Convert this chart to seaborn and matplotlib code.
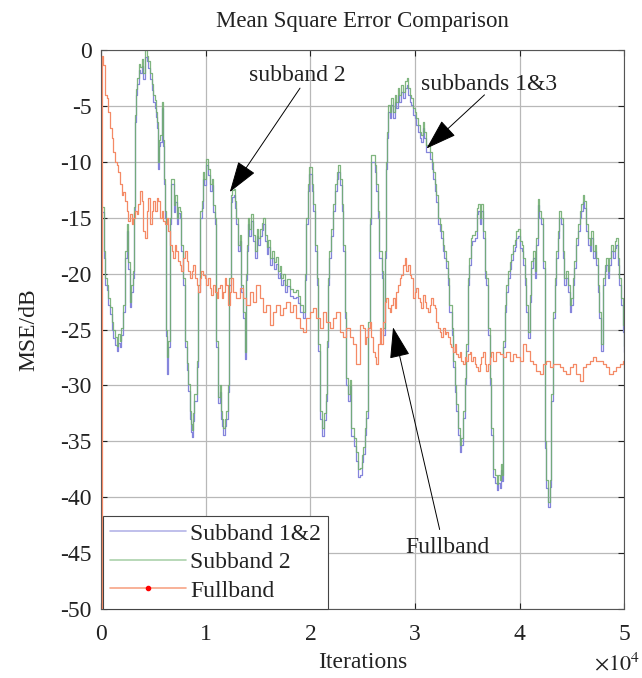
import matplotlib
matplotlib.use("Agg")
import matplotlib.pyplot as plt
import seaborn as sns
import pandas as pd
from matplotlib.lines import Line2D

# ---------------- data (iterations in units of 1e4, MSE in dB) ----------------
sub_iters = [
    0.00, 0.02, 0.03, 0.05, 0.065, 0.08, 0.10, 0.115, 0.13, 0.145,
    0.16, 0.175, 0.19, 0.21, 0.225, 0.24, 0.255, 0.27, 0.285, 0.30,
    0.31, 0.32, 0.33, 0.34, 0.355, 0.37, 0.385, 0.40, 0.42, 0.435,
    0.45, 0.465, 0.48, 0.495, 0.51, 0.52, 0.53, 0.54, 0.55, 0.56,
    0.575, 0.585, 0.595, 0.61, 0.62, 0.63, 0.64, 0.655, 0.67, 0.69,
    0.705, 0.72, 0.735, 0.75, 0.765, 0.78, 0.80, 0.815, 0.83, 0.846,
    0.86, 0.87, 0.88, 0.89, 0.91, 0.925, 0.94, 0.96, 0.97, 0.985,
    1.00, 1.02, 1.04, 1.055, 1.07, 1.085, 1.10, 1.117, 1.13, 1.14,
    1.155, 1.165, 1.18, 1.19, 1.21, 1.22, 1.235, 1.25, 1.265, 1.28,
    1.29, 1.31, 1.325, 1.34, 1.355, 1.37, 1.38, 1.39, 1.40, 1.415,
    1.43, 1.45, 1.47, 1.485, 1.50, 1.52, 1.535, 1.55, 1.565, 1.58,
    1.595, 1.61, 1.63, 1.65, 1.67, 1.69, 1.705, 1.72, 1.74, 1.76,
    1.78, 1.80, 1.83, 1.86, 1.88, 1.90, 1.93, 1.945, 1.96, 1.975,
    1.99, 2.01, 2.025, 2.04, 2.06, 2.075, 2.09, 2.11, 2.13, 2.15,
    2.16, 2.17, 2.18, 2.20, 2.216, 2.23, 2.25, 2.26, 2.28, 2.30,
    2.31, 2.33, 2.34, 2.36, 2.375, 2.39, 2.42, 2.44, 2.455, 2.47,
    2.49, 2.50, 2.52, 2.535, 2.55, 2.565, 2.58, 2.60, 2.615, 2.63,
    2.645, 2.66, 2.68, 2.69, 2.71, 2.72, 2.73, 2.74, 2.76, 2.775,
    2.79, 2.805, 2.82, 2.84, 2.85, 2.87, 2.885, 2.90, 2.92, 2.935,
    2.95, 2.965, 2.98, 3.00, 3.01, 3.03, 3.045, 3.06, 3.08, 3.09,
    3.11, 3.125, 3.14, 3.16, 3.17, 3.19, 3.20, 3.22, 3.24, 3.25,
    3.27, 3.28, 3.30, 3.315, 3.33, 3.35, 3.36, 3.38, 3.395, 3.41,
    3.43, 3.44, 3.46, 3.475, 3.49, 3.51, 3.52, 3.54, 3.55, 3.57,
    3.59, 3.60, 3.62, 3.635, 3.65, 3.67, 3.68, 3.70, 3.715, 3.73,
    3.75, 3.765, 3.78, 3.795, 3.81, 3.825, 3.835, 3.845, 3.86, 3.87,
    3.89, 3.905, 3.92, 3.94, 3.955, 3.97, 3.985, 4.00, 4.02, 4.03,
    4.05, 4.065, 4.08, 4.10, 4.11, 4.13, 4.145, 4.16, 4.175, 4.19,
    4.21, 4.225, 4.24, 4.255, 4.27, 4.29, 4.30, 4.32, 4.335, 4.35,
    4.365, 4.38, 4.40, 4.415, 4.43, 4.445, 4.46, 4.48, 4.495, 4.51,
    4.525, 4.54, 4.56, 4.575, 4.59, 4.605, 4.62, 4.64, 4.655, 4.67,
    4.685, 4.70, 4.72, 4.73, 4.75, 4.765, 4.78, 4.80, 4.815, 4.83,
    4.845, 4.86, 4.875, 4.89, 4.91, 4.925, 4.94, 4.955, 4.97, 4.99,
    5.00,
]

sub2_mse = [
    -14.0, -18.0, -20.4, -21.0, -22.2, -23.0, -24.3, -25.0, -25.7, -26.5,
    -25.4, -26.0, -24.9, -22.8, -18.0, -15.6, -19.0, -22.5, -21.0, -19.8,
    -14.0, -5.8, -3.5, -2.5, -1.2, -1.5, -0.8, -2.0, 0.0, -0.5,
    -1.0, -2.0, -3.0, -4.0, -4.5, -5.5, -6.4, -10.0, -8.0, -7.6,
    -4.6, -8.0, -11.5, -14.4, -25.0, -27.5, -26.0, -15.0, -11.5, -13.9,
    -13.0, -15.0, -14.0, -14.4, -17.4, -20.4, -26.0, -28.0, -29.9, -32.3,
    -33.5, -34.0, -32.5, -30.8, -27.8, -21.0, -14.4, -13.5, -10.9, -11.5,
    -9.7, -10.6, -12.0, -11.5, -13.9, -15.0, -26.0, -31.0, -30.0, -32.3,
    -33.0, -33.8, -33.0, -32.3, -30.0, -20.4, -13.0, -12.5, -12.4, -13.5,
    -15.0, -17.4, -16.5, -21.0, -23.4, -27.0, -20.0, -17.4, -15.0, -16.0,
    -14.7, -16.5, -18.0, -16.0, -16.8, -16.0, -15.5, -15.0, -16.5, -17.6,
    -17.0, -18.6, -18.0, -19.0, -18.5, -19.8, -19.3, -20.4, -20.0, -21.0,
    -20.5, -21.4, -21.6, -21.5, -22.0, -22.8, -23.4, -20.0, -15.0, -12.0,
    -10.5, -12.0, -13.8, -17.4, -20.4, -26.3, -32.3, -33.8, -32.5, -30.8,
    -26.0, -20.4, -18.0, -16.0, -13.8, -12.0, -10.9, -10.3, -11.5, -13.8,
    -17.4, -23.4, -29.3, -30.8, -29.5, -33.8, -34.7, -36.0, -37.5, -37.4,
    -36.2, -35.5, -33.8, -32.3, -24.3, -15.0, -9.4, -9.4, -10.3, -12.0,
    -14.4, -18.0, -19.8, -24.9, -18.0, -10.0, -7.3, -4.9, -5.5, -4.3,
    -5.5, -4.0, -4.6, -3.4, -4.0, -3.1, -3.7, -2.8, -2.5, -3.4,
    -4.0, -4.3, -5.2, -5.5, -6.1, -6.7, -7.3, -7.6, -6.4, -7.3,
    -8.5, -8.5, -9.1, -10.0, -10.9, -12.0, -13.0, -15.0, -15.6, -16.2,
    -17.4, -18.0, -18.9, -20.4, -22.8, -24.9, -27.8, -30.0, -31.7, -33.8,
    -35.3, -34.7, -32.3, -29.3, -26.3, -20.4, -18.6, -16.8, -16.5, -16.2,
    -14.1, -13.8, -15.0, -13.8, -16.2, -19.8, -20.4, -24.9, -29.3, -33.8,
    -37.5, -38.0, -38.8, -38.0, -38.5, -37.0, -38.0, -26.0, -22.8, -21.0,
    -19.8, -19.0, -18.2, -17.4, -17.0, -16.2, -16.0, -17.1, -17.4, -18.6,
    -20.4, -22.8, -25.2, -21.9, -18.9, -18.0, -19.8, -16.8, -13.3, -14.4,
    -15.0, -18.9, -35.0, -38.5, -40.4, -38.5, -30.8, -23.4, -20.4, -18.0,
    -16.2, -14.4, -15.0, -18.0, -20.4, -19.8, -21.0, -22.8, -22.2, -20.4,
    -18.9, -16.8, -15.6, -14.4, -13.8, -13.0, -13.5, -15.6, -16.8, -17.4,
    -16.2, -18.0, -17.4, -18.6, -21.0, -23.4, -26.3, -20.4, -19.2, -18.6,
    -19.8, -18.6, -17.4, -18.0, -17.1, -16.8, -18.6, -20.4, -22.2, -24.6,
    -26.5,
]

sub12_mse = [
    -14.5, -18.6, -21.0, -21.5, -22.8, -23.6, -25.0, -25.8, -26.4, -26.9,
    -26.2, -26.6, -25.5, -23.4, -18.6, -16.2, -19.6, -23.0, -21.6, -20.4,
    -14.6, -6.4, -4.0, -3.0, -1.8, -2.0, -1.4, -2.6, -0.6, -1.0,
    -1.6, -2.6, -3.6, -4.6, -5.2, -6.0, -7.0, -10.6, -8.6, -8.2,
    -5.2, -8.6, -12.0, -15.0, -25.6, -29.0, -26.6, -15.6, -12.0, -14.5,
    -13.6, -15.6, -14.6, -15.0, -18.0, -21.0, -26.6, -28.6, -30.5, -33.0,
    -34.2, -34.6, -33.2, -31.4, -28.4, -21.6, -15.0, -14.1, -11.5, -12.1,
    -10.3, -11.2, -12.6, -12.1, -14.5, -15.6, -26.6, -31.6, -30.6, -33.0,
    -33.6, -34.4, -33.6, -33.0, -30.6, -21.0, -13.6, -13.1, -13.0, -14.1,
    -15.6, -18.0, -17.1, -21.6, -24.0, -27.6, -20.6, -18.0, -15.6, -16.6,
    -15.3, -17.1, -18.6, -16.6, -17.4, -16.6, -16.1, -15.6, -17.1, -18.2,
    -17.6, -19.2, -18.6, -19.6, -19.1, -20.4, -19.9, -21.0, -20.6, -21.6,
    -21.1, -22.0, -22.2, -22.1, -22.6, -23.4, -24.0, -20.6, -15.6, -12.6,
    -11.1, -12.6, -14.4, -18.0, -21.0, -26.9, -33.0, -34.5, -33.1, -31.4,
    -26.6, -21.0, -18.6, -16.6, -14.4, -12.6, -11.5, -10.9, -12.1, -14.4,
    -18.0, -24.0, -30.0, -31.4, -30.1, -34.5, -35.4, -36.8, -38.2, -38.0,
    -36.9, -36.1, -34.4, -32.9, -24.9, -15.6, -10.0, -10.0, -10.9, -12.6,
    -15.0, -18.6, -20.4, -25.5, -18.6, -10.6, -7.9, -5.5, -6.1, -4.9,
    -6.1, -4.6, -5.2, -4.0, -4.6, -3.7, -4.3, -3.4, -3.1, -4.0,
    -4.6, -4.9, -5.8, -6.1, -6.7, -7.3, -7.9, -8.2, -7.0, -7.9,
    -9.1, -9.1, -9.7, -10.6, -11.5, -12.6, -13.6, -15.6, -16.2, -16.8,
    -18.0, -18.6, -19.5, -21.0, -23.4, -25.5, -28.4, -30.6, -32.3, -34.4,
    -36.0, -35.3, -32.9, -29.9, -26.9, -21.0, -19.2, -17.4, -17.1, -16.8,
    -14.7, -14.4, -15.6, -14.4, -16.8, -20.4, -21.0, -25.5, -30.0, -34.4,
    -38.2, -38.7, -39.4, -38.7, -39.2, -37.6, -38.6, -26.6, -23.4, -21.6,
    -20.4, -19.6, -18.8, -18.0, -17.6, -16.8, -16.6, -17.7, -18.0, -19.2,
    -21.0, -23.4, -25.8, -22.5, -19.5, -18.6, -20.4, -17.4, -13.9, -15.0,
    -15.6, -19.5, -35.6, -39.2, -40.9, -39.1, -31.4, -24.0, -21.0, -18.6,
    -16.8, -15.0, -15.6, -18.6, -21.0, -20.4, -21.6, -23.4, -22.8, -21.0,
    -19.5, -17.4, -16.2, -15.0, -14.4, -13.6, -14.1, -16.2, -17.4, -18.0,
    -16.8, -18.6, -18.0, -19.2, -21.6, -24.0, -26.9, -21.0, -19.8, -19.2,
    -20.4, -19.2, -18.0, -18.6, -17.7, -17.4, -19.2, -21.0, -22.8, -25.2,
    -27.0,
]

full_iters = [
    0.0, 0.002, 0.018, 0.033, 0.049, 0.065, 0.081, 0.097, 0.113, 0.129,
    0.145, 0.161, 0.177, 0.193, 0.209, 0.225, 0.241, 0.257, 0.272, 0.288,
    0.304, 0.32, 0.336, 0.352, 0.368, 0.384, 0.40, 0.416, 0.432, 0.448,
    0.464, 0.48, 0.495, 0.511, 0.527, 0.543, 0.559, 0.575, 0.591, 0.607,
    0.623, 0.639, 0.655, 0.671, 0.687, 0.703, 0.718, 0.734, 0.75, 0.766,
    0.782, 0.798, 0.814, 0.83, 0.846, 0.862, 0.878, 0.894, 0.91, 0.926,
    0.941, 0.957, 0.973, 0.989, 1.005, 1.021, 1.037, 1.053, 1.069, 1.085,
    1.101, 1.117, 1.133, 1.149, 1.165, 1.181, 1.196, 1.212, 1.228, 1.244,
    1.26, 1.292, 1.324, 1.355, 1.387, 1.419, 1.451, 1.483, 1.515, 1.547,
    1.579, 1.61, 1.642, 1.674, 1.706, 1.738, 1.77, 1.802, 1.833, 1.865,
    1.897, 1.929, 1.961, 1.993, 2.025, 2.057, 2.088, 2.12, 2.152, 2.184,
    2.216, 2.248, 2.28, 2.311, 2.343, 2.375, 2.407, 2.439, 2.471, 2.503,
    2.519, 2.535, 2.551, 2.567, 2.582, 2.598, 2.614, 2.63, 2.646, 2.662,
    2.678, 2.694, 2.71, 2.726, 2.742, 2.758, 2.774, 2.79, 2.806, 2.822,
    2.837, 2.853, 2.869, 2.885, 2.901, 2.917, 2.933, 2.949, 2.965, 2.981,
    2.997, 3.013, 3.029, 3.045, 3.061, 3.076, 3.092, 3.108, 3.124, 3.14,
    3.156, 3.172, 3.188, 3.204, 3.22, 3.236, 3.252, 3.268, 3.284, 3.30,
    3.315, 3.331, 3.347, 3.363, 3.379, 3.395, 3.411, 3.427, 3.443, 3.459,
    3.475, 3.491, 3.507, 3.523, 3.539, 3.554, 3.57, 3.586, 3.602, 3.618,
    3.634, 3.65, 3.666, 3.682, 3.698, 3.714, 3.73, 3.746, 3.778, 3.81,
    3.841, 3.873, 3.905, 3.937, 3.969, 4.001, 4.033, 4.065, 4.096, 4.128,
    4.16, 4.192, 4.224, 4.256, 4.288, 4.32, 4.351, 4.383, 4.415, 4.447,
    4.479, 4.511, 4.543, 4.575, 4.606, 4.638, 4.67, 4.702, 4.734, 4.766,
    4.798, 4.829, 4.861, 4.893, 4.925, 4.957, 4.989, 5.0,
]

full_mse = [
    -60.0, -0.5, -1.3, -4.0, -4.3, -5.5, -7.0, -7.9, -9.1, -10.0,
    -10.3, -10.9, -12.0, -13.0, -12.7, -13.5, -14.4, -15.3, -14.7, -15.6,
    -15.0, -14.4, -14.7, -13.8, -12.6, -13.5, -16.2, -16.8, -14.4, -13.2,
    -15.6, -14.4, -13.5, -14.4, -13.2, -13.5, -15.0, -14.4, -15.3, -15.6,
    -15.0, -16.2, -17.4, -18.0, -18.6, -17.4, -18.0, -18.9, -19.2, -19.8,
    -18.6, -18.0, -18.9, -19.8, -20.4, -19.8, -19.2, -20.4, -21.0, -21.6,
    -20.4, -19.8, -20.1, -20.4, -21.0, -20.4, -21.3, -21.9, -21.0, -21.6,
    -22.2, -21.3, -21.0, -22.2, -21.6, -20.4, -21.0, -22.8, -21.6, -20.4,
    -21.6, -22.2, -21.3, -22.2, -22.8, -21.6, -22.5, -21.0, -22.2, -23.4,
    -22.8, -24.6, -23.4, -22.8, -23.7, -23.1, -22.5, -23.4, -22.8, -24.0,
    -24.9, -25.2, -24.0, -23.4, -23.1, -24.0, -24.9, -23.4, -24.3, -24.9,
    -24.0, -23.4, -25.2, -25.7, -24.9, -25.7, -26.3, -28.1, -24.6, -24.9,
    -26.3, -25.7, -24.9, -24.3, -25.7, -27.0, -27.5, -28.1, -26.3, -24.9,
    -26.3, -24.3, -22.5, -22.2, -23.1, -23.4, -22.8, -22.2, -23.1, -21.6,
    -21.0, -20.4, -20.1, -19.2, -18.6, -19.8, -19.2, -20.1, -20.4, -22.2,
    -21.6, -21.3, -22.2, -22.5, -23.1, -21.9, -22.5, -23.1, -23.4, -22.8,
    -22.2, -22.8, -23.1, -24.3, -24.9, -25.2, -25.7, -24.9, -25.4, -25.2,
    -25.7, -26.3, -26.6, -27.0, -26.3, -27.2, -27.5, -27.0, -27.8, -28.1,
    -27.5, -27.8, -27.2, -27.0, -27.8, -27.5, -28.1, -28.4, -28.7, -28.1,
    -27.5, -27.0, -28.1, -28.7, -28.1, -27.5, -27.0, -27.8, -27.0, -27.2,
    -27.5, -27.0, -27.8, -27.2, -27.5, -27.8, -26.3, -26.9, -27.8, -28.1,
    -28.7, -29.0, -28.1, -27.8, -28.4, -28.1, -28.1, -28.4, -28.7, -29.0,
    -28.4, -28.1, -29.0, -29.6, -28.4, -28.1, -27.8, -27.5, -27.8, -27.8,
    -28.1, -28.4, -29.0, -28.7, -28.4, -28.1, -27.8, -28.5,
]

x_ticks = [0, 1, 2, 3, 4, 5]
y_ticks = [0, -5, -10, -15, -20, -25, -30, -35, -40, -45, -50]
series_labels = ["Subband 1&2", "Subband 2", "Fullband"]

# ---------------- style ----------------
sns.set_theme(style="white")
plt.rcParams["font.family"] = ["Liberation Serif", "DejaVu Serif"]
plt.rcParams["mathtext.fontset"] = "stix"
plt.rcParams["axes.unicode_minus"] = False

c_blue = "#8585dc"
c_green = "#72ae72"
c_orange = "#f48a66"

fig = plt.figure(figsize=(6.42, 6.78), dpi=100)
ax = fig.add_axes([0.158, 0.102, 0.814, 0.824])

df_sub = pd.DataFrame({"it": sub_iters, "s12": sub12_mse, "s2": sub2_mse})
df_full = pd.DataFrame({"it": full_iters, "mse": full_mse})

sns.lineplot(data=df_sub, x="it", y="s12", ax=ax, color=c_blue, lw=0.9,
             drawstyle="steps-post", estimator=None, sort=False, legend=False, zorder=2)
sns.lineplot(data=df_sub, x="it", y="s2", ax=ax, color=c_green, lw=0.9, alpha=0.9,
             drawstyle="steps-post", estimator=None, sort=False, legend=False, zorder=2.2)
sns.lineplot(data=df_full, x="it", y="mse", ax=ax, color=c_orange, lw=0.9,
             drawstyle="steps-post", estimator=None, sort=False, legend=False, zorder=3)

ax.set_xlim(0, 5)
ax.set_ylim(-50, 0)
ax.set_xticks(x_ticks)
ax.set_xticklabels([str(v) for v in x_ticks])
ax.set_yticks(y_ticks)
ax.set_yticklabels([str(v) for v in y_ticks])
ax.grid(True, color="#b8b8b8", lw=0.9)
ax.set_axisbelow(True)
for s in ax.spines.values():
    s.set_color("#555555")
    s.set_linewidth(0.8)
ax.tick_params(axis="both", direction="in", length=4, width=0.8, colors="#222222",
               labelcolor="#222222", labelsize=17, top=True, right=True,
               bottom=True, left=True)
ax.tick_params(axis="x", pad=11)
ax.tick_params(axis="y", pad=7)

ax.set_title("Mean Square Error Comparison", fontsize=16.5, pad=17, color="#222222")
ax.set_xlabel("Iterations", fontsize=17, color="#222222")
ax.set_ylabel("MSE/dB", fontsize=17, color="#222222")
ax.xaxis.set_label_coords(0.5, -0.078)
ax.yaxis.set_label_coords(-0.118, 0.5)
fig.text(0.997, 1 - 664 / 678, r"$\times 10^{4}$", ha="right", va="center",
         fontsize=16, color="#222222")

# annotations
arrow_kw = dict(arrowstyle="-|>,head_length=1.1,head_width=0.36", color="black",
                lw=0.7, mutation_scale=18, shrinkA=0, shrinkB=0)
ax.annotate("", xy=(1.228, -12.7), xytext=(1.90, -3.4), arrowprops=arrow_kw)
ax.text(1.87, -2.3, "subband 2", fontsize=17, ha="center", va="center", color="#222222")
ax.annotate("", xy=(3.11, -8.8), xytext=(3.665, -4.0), arrowprops=arrow_kw)
ax.text(3.71, -3.1, "subbands 1&3", fontsize=17, ha="center", va="center", color="#222222")
ax.annotate("", xy=(2.79, -24.8), xytext=(3.236, -42.9), arrowprops=arrow_kw)
ax.text(3.31, -44.5, "Fullband", fontsize=17, ha="center", va="center", color="#222222")

handles = [
    Line2D([], [], color="#b4b4e8", lw=1.2),
    Line2D([], [], color="#acd2ac", lw=1.2),
    Line2D([], [], color="#f7a486", lw=1.2, marker=".", markersize=6,
           markerfacecolor="red", markeredgecolor="red"),
]
leg = ax.legend(handles, series_labels, loc="lower left", bbox_to_anchor=(0.003, 0.0),
                borderaxespad=0, fontsize=17, handlelength=3.2, handletextpad=0.2,
                labelspacing=0.3, borderpad=0.3, frameon=True, fancybox=False,
                edgecolor="#444444", framealpha=1, numpoints=1)
leg.get_frame().set_linewidth(0.8)
for t in leg.get_texts():
    t.set_color("#222222")

fig.savefig("out.png", dpi=100)
